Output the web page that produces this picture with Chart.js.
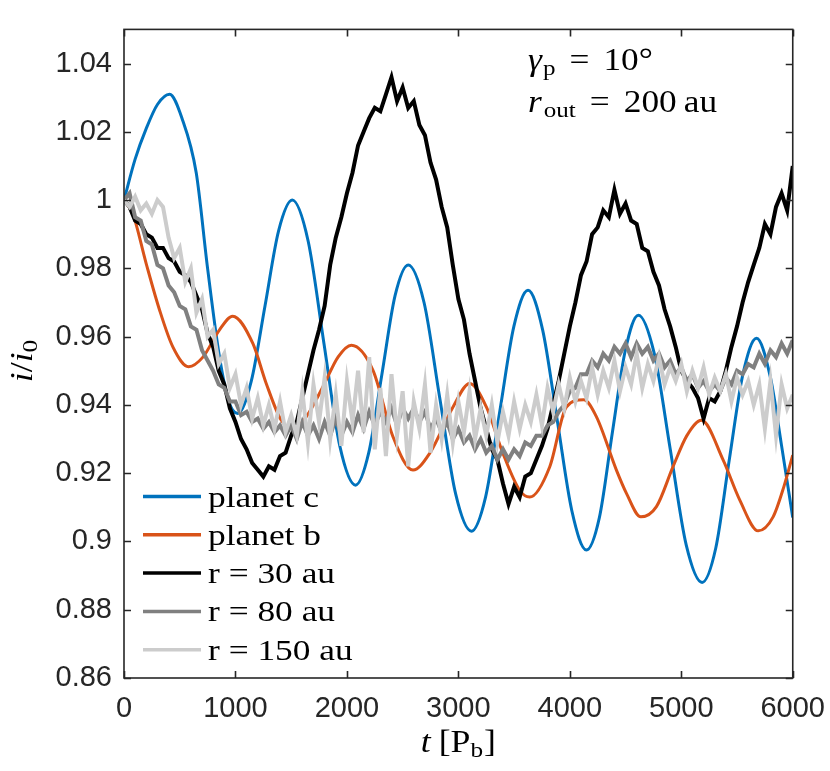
<!DOCTYPE html>
<html>
<head>
<meta charset="utf-8">
<script src="https://cdn.jsdelivr.net/npm/chart.js@4.4.1/dist/chart.umd.min.js"></script>
<style>
  html, body { margin: 0; padding: 0; background: #ffffff; }
  #c { display: block; }
</style>
</head>
<body>
<canvas id="c" width="830" height="771"></canvas>
<script>
// ---------------- DATA ----------------
const seriesLabels = ['planet c', 'planet b', 'r = 30 au', 'r = 80 au', 'r = 150 au'];
const seriesColors = ['#0072BD', '#D95319', '#000000', '#808080', '#CCCCCC'];

const xTicks = [0, 1000, 2000, 3000, 4000, 5000, 6000];
const xTickLabels = ['0', '1000', '2000', '3000', '4000', '5000', '6000'];
const yTicks = [0.86, 0.88, 0.90, 0.92, 0.94, 0.96, 0.98, 1.00, 1.02, 1.04];
const yTickLabels = ['0.86', '0.88', '0.9', '0.92', '0.94', '0.96', '0.98', '1', '1.02', '1.04'];

const tPlanetC = [0, 100, 200, 300, 409, 520, 648, 750, 857, 940, 1020, 1142, 1265, 1387, 1510, 1652, 1794, 1936, 2078, 2196, 2314, 2432, 2550, 2692, 2833, 2975, 3117, 3244, 3371, 3498, 3625, 3756, 3887, 4018, 4149, 4265, 4382, 4498, 4615, 4758, 4901, 5044, 5187, 5309, 5431, 5553, 5675, 5800, 5900, 6000];
const planetC = [1.000, 1.012, 1.021, 1.028, 1.031, 1.024, 1.008, 0.980, 0.954, 0.941, 0.9375, 0.947, 0.969, 0.991, 1.000, 0.988, 0.958, 0.928, 0.9165, 0.926, 0.949, 0.972, 0.981, 0.970, 0.942, 0.914, 0.903, 0.913, 0.938, 0.963, 0.9736, 0.962, 0.9355, 0.909, 0.8975, 0.907, 0.932, 0.956, 0.9663, 0.955, 0.927, 0.899, 0.888, 0.898, 0.924, 0.949, 0.9595, 0.948, 0.928, 0.907];

const tPlanetB = [0, 79, 199, 319, 438, 580, 708, 857, 975, 1156, 1276, 1411, 1520, 1635, 1785, 1920, 2040, 2233, 2413, 2593, 2742, 2952, 3101, 3251, 3400, 3550, 3640, 3820, 3969, 4125, 4239, 4418, 4508, 4637, 4777, 4926, 5050, 5181, 5375, 5525, 5690, 5824, 5920, 6000];
const planetB = [1.000, 0.996, 0.9814, 0.9678, 0.957, 0.9512, 0.954, 0.962, 0.966, 0.958, 0.9463, 0.9355, 0.933, 0.9365, 0.9453, 0.954, 0.9575, 0.9502, 0.9307, 0.9209, 0.9258, 0.9394, 0.9463, 0.9394, 0.9258, 0.915, 0.913, 0.9219, 0.9394, 0.9415, 0.9365, 0.9209, 0.9141, 0.9072, 0.9102, 0.9219, 0.931, 0.9355, 0.9239, 0.9121, 0.9031, 0.9072, 0.916, 0.9253];

const tDisk = [0,50,100,150,200,250,300,350,400,450,500,550,600,650,700,750,800,850,900,950,1000,1050,1100,1150,1200,1250,1300,1350,1400,1450,1500,1550,1600,1650,1700,1750,1800,1850,1900,1950,2000,2050,2100,2150,2200,2250,2300,2350,2400,2450,2500,2550,2600,2650,2700,2750,2800,2850,2900,2950,3000,3050,3100,3150,3200,3250,3300,3350,3400,3450,3500,3550,3600,3650,3700,3750,3800,3850,3900,3950,4000,4050,4100,4150,4200,4250,4300,4350,4400,4450,4500,4550,4600,4650,4700,4750,4800,4850,4900,4950,5000,5050,5100,5150,5200,5250,5300,5350,5400,5450,5500,5550,5600,5650,5700,5750,5800,5850,5900,5950,6000];

const r30 = [
1.000,0.998,0.994,0.993,0.990,0.989,0.986,0.986,0.983,0.982,
0.979,0.978,0.976,0.972,0.968,0.961,0.957,0.950,0.946,0.939,
0.935,0.930,0.927,0.923,0.921,0.919,0.922,0.921,0.925,0.926,
0.931,0.935,0.942,0.949,0.956,0.962,0.969,0.981,0.989,0.995,
1.002,1.008,1.016,1.020,1.024,1.027,1.026,1.031,1.036,1.029,
1.033,1.027,1.029,1.022,1.019,1.011,1.006,0.998,0.992,0.981,
0.971,0.965,0.955,0.947,0.939,0.933,0.927,0.924,0.917,0.911,
0.916,0.913,0.919,0.920,0.924,0.928,0.933,0.940,0.947,0.955,
0.963,0.970,0.978,0.982,0.990,0.992,0.997,0.995,1.003,0.996,
0.999,0.994,0.993,0.986,0.985,0.979,0.975,0.968,0.963,0.957,
0.950,0.947,0.945,0.942,0.936,0.942,0.941,0.944,0.950,0.957,
0.963,0.970,0.976,0.981,0.986,0.993,0.990,0.998,1.002,0.997,
1.010];

const r80 = [
1.000,1.002,0.995,0.994,0.988,0.987,0.981,0.980,0.975,0.973,
0.969,0.968,0.963,0.962,0.956,0.953,0.950,0.946,0.945,0.941,
0.941,0.937,0.938,0.935,0.936,0.933,0.935,0.932,0.934,0.931,
0.934,0.930,0.935,0.931,0.934,0.930,0.935,0.931,0.936,0.931,
0.935,0.932,0.937,0.933,0.938,0.934,0.938,0.935,0.939,0.934,
0.939,0.936,0.939,0.935,0.938,0.933,0.936,0.932,0.935,0.930,
0.933,0.929,0.931,0.927,0.930,0.926,0.928,0.924,0.927,0.924,
0.927,0.925,0.929,0.928,0.931,0.931,0.934,0.935,0.938,0.940,
0.944,0.945,0.949,0.949,0.953,0.951,0.955,0.953,0.957,0.955,
0.958,0.954,0.958,0.955,0.957,0.953,0.955,0.951,0.953,0.949,
0.951,0.947,0.949,0.945,0.947,0.944,0.946,0.944,0.948,0.946,
0.950,0.949,0.952,0.951,0.955,0.952,0.956,0.954,0.958,0.955,
0.959];

const r150 = [
1.000,0.998,1.001,0.997,0.999,0.996,1.000,0.998,0.989,0.983,
0.986,0.976,0.980,0.967,0.971,0.960,0.962,0.952,0.955,0.945,
0.949,0.940,0.945,0.936,0.942,0.934,0.940,0.933,0.941,0.932,
0.937,0.931,0.944,0.929,0.946,0.935,0.948,0.930,0.943,0.928,
0.947,0.935,0.950,0.932,0.954,0.927,0.945,0.925,0.949,0.931,
0.944,0.922,0.941,0.933,0.946,0.926,0.940,0.930,0.943,0.929,
0.941,0.932,0.944,0.930,0.939,0.931,0.940,0.929,0.938,0.931,
0.941,0.933,0.940,0.935,0.943,0.934,0.945,0.938,0.946,0.939,
0.948,0.941,0.947,0.942,0.951,0.943,0.950,0.945,0.953,0.944,
0.951,0.946,0.955,0.945,0.952,0.947,0.954,0.946,0.951,0.947,
0.952,0.944,0.950,0.945,0.951,0.943,0.948,0.944,0.949,0.941,
0.948,0.943,0.947,0.940,0.946,0.933,0.947,0.931,0.946,0.939,
0.943];

// ---------------- BUILD ----------------
const zip = (xs, ys) => xs.map((x, i) => ({ x: x, y: ys[i] }));
const seriesData = [zip(tPlanetC, planetC), zip(tPlanetB, planetB), zip(tDisk, r30), zip(tDisk, r80), zip(tDisk, r150)];
const smooth = [true, true, false, false, false];

const AXIS = '#262626';
const SERIF = '"Liberation Serif", "DejaVu Serif", serif';
const SANS = '"Liberation Sans", Arial, sans-serif';

function drawRuns(ctx, x, y, runs, sx) {
  let cx = x;
  runs.forEach(r => {
    cx += (r.gap || 0);
    ctx.font = r.f;
    ctx.save();
    ctx.translate(cx, y + (r.dy || 0));
    ctx.scale(sx, 1);
    ctx.fillText(r.t, 0, 0);
    ctx.restore();
    cx += ctx.measureText(r.t).width * sx;
  });
  return cx - x;
}
function runsWidth(ctx, runs, sx) {
  let w = 0;
  runs.forEach(r => { w += (r.gap || 0); ctx.font = r.f; w += ctx.measureText(r.t).width * sx; });
  return w;
}

const decor = {
  id: 'decor',
  afterDatasetsDraw(chart) {
    const ctx = chart.ctx;
    const a = chart.chartArea;
    const xs = chart.scales.x, ys = chart.scales.y;
    ctx.save();
    // frame
    ctx.strokeStyle = AXIS;
    ctx.lineWidth = 1.6;
    ctx.strokeRect(a.left, a.top, a.right - a.left, a.bottom - a.top);
    ctx.beginPath();
    const tl = 7;
    xTicks.forEach(v => {
      const p = Math.round(xs.getPixelForValue(v)) + 0.5;
      ctx.moveTo(p, a.bottom); ctx.lineTo(p, a.bottom - tl);
      ctx.moveTo(p, a.top); ctx.lineTo(p, a.top + tl);
    });
    yTicks.forEach(v => {
      const p = Math.round(ys.getPixelForValue(v)) + 0.5;
      ctx.moveTo(a.left, p); ctx.lineTo(a.left + tl, p);
      ctx.moveTo(a.right, p); ctx.lineTo(a.right - tl, p);
    });
    ctx.stroke();

    // legend
    ctx.fillStyle = '#000';
    ctx.textBaseline = 'alphabetic';
    ctx.textAlign = 'left';
    const rowStep = 38.3;
    const row0 = a.bottom - 181.5;
    seriesLabels.forEach((lab, i) => {
      const yy = row0 + i * rowStep;
      ctx.strokeStyle = seriesColors[i];
      ctx.lineWidth = 3.5;
      ctx.beginPath();
      ctx.moveTo(a.left + 19, yy);
      ctx.lineTo(a.left + 77, yy);
      ctx.stroke();
      drawRuns(ctx, a.left + 84, yy + 10, [{ t: lab, f: '29px ' + SERIF }], 1.22);
    });

    // annotation
    const ax = a.left + 404;
    const it30 = 'italic 31px ' + SERIF, rm30 = '31px ' + SERIF, rm21 = '22px ' + SERIF;
    drawRuns(ctx, ax, a.top + 41, [
      { t: 'γ', f: it30 },
      { t: 'p', f: rm21, dy: 5, gap: 1 },
      { t: '=', f: rm30, gap: 14 },
      { t: '10°', f: rm30, gap: 14 }
    ], 1.14);
    drawRuns(ctx, ax, a.top + 83, [
      { t: 'r', f: it30 },
      { t: 'out', f: rm21, dy: 5, gap: 2 },
      { t: '=', f: rm30, gap: 14 },
      { t: '200', f: rm30, gap: 14 },
      { t: 'au', f: rm30, gap: 7 }
    ], 1.14);

    // x title
    const xt = [
      { t: 't', f: it30 },
      { t: '[P', f: rm30, gap: 8 },
      { t: 'b', f: rm21, dy: 5 },
      { t: ']', f: rm30, gap: 1 }
    ];
    const xw = runsWidth(ctx, xt, 1.15);
    drawRuns(ctx, (a.left + a.right) / 2 - xw / 2, 752, xt, 1.15);

    // y title
    ctx.save();
    ctx.translate(32, 361);
    ctx.rotate(-Math.PI / 2);
    const yt = [
      { t: 'i', f: it30 },
      { t: '/', f: rm30 },
      { t: 'i', f: it30 },
      { t: '0', f: rm21, dy: 5 }
    ];
    const yw = runsWidth(ctx, yt, 1.15);
    drawRuns(ctx, -yw / 2, 0, yt, 1.15);
    ctx.restore();

    ctx.restore();
  }
};

const datasets = seriesLabels.map((lab, i) => ({
  label: lab,
  data: seriesData[i],
  borderColor: seriesColors[i],
  backgroundColor: seriesColors[i],
  borderWidth: smooth[i] ? 3 : 4,
  borderJoinStyle: 'miter',
  pointRadius: 0,
  fill: false,
  cubicInterpolationMode: smooth[i] ? 'monotone' : 'default',
  tension: 0,
  order: seriesLabels.length - i
}));

new Chart(document.getElementById('c'), {
  type: 'line',
  data: { datasets: datasets },
  options: {
    responsive: false,
    animation: false,
    events: [],
    layout: { padding: { left: 0, right: 37, top: 29, bottom: 0 } },
    plugins: { legend: { display: false }, tooltip: { enabled: false }, title: { display: false } },
    scales: {
      x: {
        type: 'linear',
        min: 0, max: 6000,
        afterBuildTicks: s => { s.ticks = xTicks.map(v => ({ value: v })); },
        afterFit: s => { s.height = 93; },
        grid: { display: false, drawTicks: true, tickLength: 9 },
        border: { display: false },
        ticks: {
          callback: (v, i) => xTickLabels[i],
          color: AXIS,
          font: { family: SANS, size: 29 },
          padding: 5,
          maxRotation: 0,
          autoSkip: false
        }
      },
      y: {
        type: 'linear',
        min: 0.86, max: 1.05,
        afterBuildTicks: s => { s.ticks = yTicks.map(v => ({ value: v })); },
        afterFit: s => { s.width = 124; },
        grid: { display: false, drawTicks: false },
        border: { display: false },
        ticks: {
          callback: (v, i) => yTickLabels[i],
          color: AXIS,
          font: { family: SANS, size: 29 },
          padding: 12,
          autoSkip: false
        }
      }
    }
  },
  plugins: [decor]
});
</script>
</body>
</html>
